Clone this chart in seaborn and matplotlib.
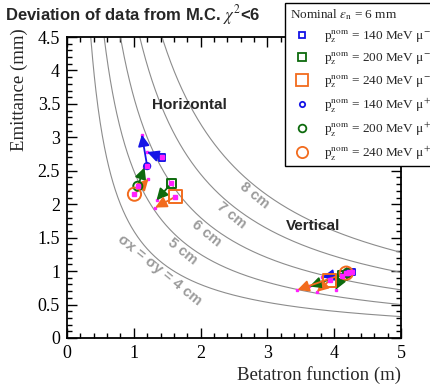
import numpy as np
import pandas as pd
import matplotlib
matplotlib.use("Agg")
import matplotlib.pyplot as plt
import seaborn as sns
from matplotlib.lines import Line2D

# ---------------- data ----------------
groups = ["140 MeV μ-", "200 MeV μ-", "240 MeV μ-", "140 MeV μ+", "200 MeV μ+", "240 MeV μ+"]
legend_labels = [
    r"p$_\mathrm{z}^\mathrm{nom}$ = 140 MeV μ$^{-}$",
    r"p$_\mathrm{z}^\mathrm{nom}$ = 200 MeV μ$^{-}$",
    r"p$_\mathrm{z}^\mathrm{nom}$ = 240 MeV μ$^{-}$",
    r"p$_\mathrm{z}^\mathrm{nom}$ = 140 MeV μ$^{+}$",
    r"p$_\mathrm{z}^\mathrm{nom}$ = 200 MeV μ$^{+}$",
    r"p$_\mathrm{z}^\mathrm{nom}$ = 240 MeV μ$^{+}$",
]
# horizontal plane
h_start_beta = [1.42, 1.56, 1.62, 1.20, 1.06, 1.01]
h_start_eps = [2.70, 2.31, 2.11, 2.57, 2.27, 2.15]
h_end_beta = [1.20, 1.34, 1.32, 1.12, 1.16, 1.22]
h_end_eps = [2.78, 2.06, 1.95, 3.04, 2.55, 2.38]
# vertical plane
v_start_beta = [4.27, 4.12, 3.93, 4.22, 4.20, 4.18]
v_start_eps = [0.99, 0.93, 0.86, 0.98, 0.97, 0.97]
v_end_beta = [3.82, 4.02, 3.74, 4.10, 3.63, 3.45]
v_end_eps = [0.91, 0.72, 0.69, 0.88, 0.77, 0.72]

sigmas_cm = [4, 5, 6, 7, 8]
curve_labels = ["σx = σy = 4 cm", "5 cm", "6 cm", "7 cm", "8 cm"]
label_beta = [1.38, 1.73, 2.09, 2.46, 2.81]
label_eps = [1.01, 1.30, 1.56, 1.83, 2.13]

# ---------------- styles ----------------
colors = ["#1414e6", "#0d6a0d", "#f26b1d", "#1414e6", "#0d6a0d", "#f26b1d"]
markers = ["s", "s", "s", "o", "o", "o"]
msizes = [4.5, 6.5, 9.5, 4.5, 6.5, 9.5]

sns.set_style("ticks")
plt.rcParams["font.family"] = ["Liberation Serif", "DejaVu Serif"]
plt.rcParams["mathtext.fontset"] = "stix"
SANS = ["Liberation Sans", "DejaVu Sans"]

fig = plt.figure(figsize=(4.31, 3.87), dpi=100)
ax = fig.add_axes([67 / 431, 1 - 338 / 387, (401 - 67) / 431, (338 - 37) / 387])

# iso-size curves: eps[mm] = sigma[mm]^2 / beta[mm]
beta = np.linspace(0.2, 5.0, 600)
for s in sigmas_cm:
    eps = (s * 10.0) ** 2 / (beta * 1000.0)
    df = pd.DataFrame({"beta": beta, "eps": eps})
    sns.lineplot(data=df, x="beta", y="eps", ax=ax, color="#8c8c8c", lw=0.8,
                 sort=False, estimator=None, zorder=1)

for lab, bx, ey in zip(curve_labels, label_beta, label_eps):
    ax.text(bx, ey, lab, rotation=-39, ha="center", va="center", color="#9b9b9b",
            fontsize=10.5, fontweight="bold", family=SANS,
            rotation_mode="anchor", zorder=2)

# arrows + markers
for sb, se, eb, ee in [(h_start_beta, h_start_eps, h_end_beta, h_end_eps),
                       (v_start_beta, v_start_eps, v_end_beta, v_end_eps)]:
    for i in range(len(groups)):
        ax.plot([eb[i]], [ee[i]], marker="s", ms=2.0, color="#ff20ff", mec="#ff20ff", zorder=2.5)
        ax.annotate("", xy=(eb[i], ee[i]), xytext=(sb[i], se[i]),
                    arrowprops=dict(arrowstyle="-|>,head_length=0.8,head_width=0.4",
                                    color=colors[i], lw=1.3, shrinkA=0, shrinkB=0,
                                    mutation_scale=8.5), zorder=3)
    for i in range(len(groups)):
        d = pd.DataFrame({"beta": [sb[i]], "eps": [se[i]]})
        sns.scatterplot(data=d, x="beta", y="eps", ax=ax, marker=markers[i],
                        s=msizes[i] ** 2, facecolor="none", edgecolor=colors[i],
                        linewidth=1.4, zorder=4)
        ax.plot([sb[i]], [se[i]], marker="s", ms=2.5, color="#ff20ff", mec="#ff20ff", zorder=5)

ax.text(1.83, 3.49, "Horizontal", ha="center", va="center", fontsize=11,
        fontweight="bold", family=SANS)
ax.text(3.68, 1.68, "Vertical", ha="center", va="center", fontsize=11,
        fontweight="bold", family=SANS)

ax.set_xlim(0, 5)
ax.set_ylim(0, 4.5)
ax.set_xticks([0, 1, 2, 3, 4, 5])
ax.set_xticklabels(["0", "1", "2", "3", "4", "5"])
ax.set_yticks([0, 0.5, 1, 1.5, 2, 2.5, 3, 3.5, 4, 4.5])
ax.set_yticklabels(["0", "0.5", "1", "1.5", "2", "2.5", "3", "3.5", "4", "4.5"])
ax.xaxis.set_minor_locator(matplotlib.ticker.MultipleLocator(0.2))
ax.yaxis.set_minor_locator(matplotlib.ticker.MultipleLocator(0.1))
ax.tick_params(which="both", direction="in", top=True, right=True, labelsize=13,
               width=1.0, colors="black")
ax.tick_params(which="major", length=7, pad=5)
ax.tick_params(which="minor", length=3.5)
for sp in ax.spines.values():
    sp.set_visible(True)
    sp.set_linewidth(1.3)
    sp.set_color("black")

ax.set_xlabel("Betatron function (m)", fontsize=13.5, ha="right", x=1.0, labelpad=3)
ax.set_ylabel("Emittance (mm)", fontsize=13.5, ha="right", y=1.03, labelpad=7)

fig.text(5 / 431, 1 - 15 / 387, r"Deviation of data from M.C. $\chi^2$<6", ha="left",
         va="center", fontsize=12, fontweight="bold", family=SANS)

handles = [Line2D([], [], ls="none", marker=markers[i], ms=msizes[i] * 0.85,
                  mfc="none", mec=colors[i], mew=1.3) for i in range(len(groups))]
leg = fig.legend(handles, legend_labels, loc="upper left",
                 bbox_to_anchor=(285 / 431, 1 - 3 / 387), borderaxespad=0,
                 title=r"Nominal $\varepsilon_\mathrm{n}$ = 6 mm", title_fontsize=9.5,
                 fontsize=9.5, frameon=True, fancybox=False, edgecolor="black",
                 framealpha=1, handletextpad=0.7, handlelength=1.9, labelspacing=0.45,
                 borderpad=0.35, alignment="left")
leg.get_frame().set_linewidth(1.0)

fig.savefig("out.png", dpi=100)
